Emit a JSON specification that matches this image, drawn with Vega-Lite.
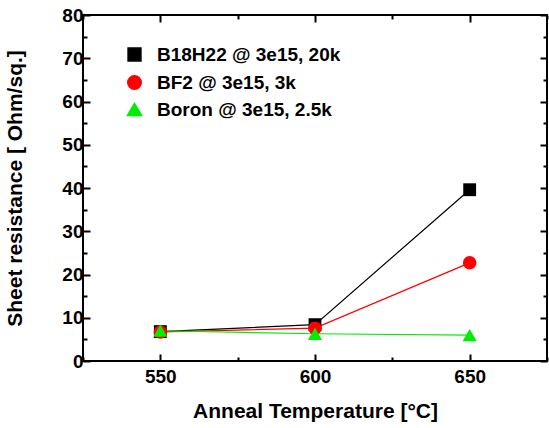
{
  "$schema": "https://vega.github.io/schema/vega-lite/v6.json",
  "width": 464,
  "height": 346,
  "autosize": "none",
  "padding": {"left": 83, "top": 15, "right": 2, "bottom": 67},
  "background": "white",
  "config": {
    "view": {"stroke": "black", "strokeWidth": 2},
    "font": "Liberation Sans",
    "axis": {
      "domain": false,
      "grid": false,
      "labelFont": "Liberation Sans",
      "labelFontWeight": "bold",
      "labelFontSize": 19,
      "labelColor": "black",
      "titleFont": "Liberation Sans",
      "titleFontWeight": "bold",
      "titleFontSize": 21,
      "titleColor": "black",
      "tickColor": "black",
      "tickWidth": 2
    },
    "legend": {
      "labelFont": "Liberation Sans",
      "labelFontWeight": "bold",
      "labelFontSize": 19,
      "labelColor": "black",
      "labelLimit": 400
    }
  },
  "data": {
    "values": [
      {"series": "B18H22 @ 3e15, 20k", "T": 550, "R": 6.8},
      {"series": "B18H22 @ 3e15, 20k", "T": 600, "R": 8.4},
      {"series": "B18H22 @ 3e15, 20k", "T": 650, "R": 39.6},
      {"series": "BF2 @ 3e15, 3k", "T": 550, "R": 6.7},
      {"series": "BF2 @ 3e15, 3k", "T": 600, "R": 7.6},
      {"series": "BF2 @ 3e15, 3k", "T": 650, "R": 22.7},
      {"series": "Boron @ 3e15, 2.5k", "T": 550, "R": 7.0},
      {"series": "Boron @ 3e15, 2.5k", "T": 600, "R": 6.3},
      {"series": "Boron @ 3e15, 2.5k", "T": 650, "R": 6.0}
    ]
  },
  "layer": [
    {
      "mark": {"type": "line", "strokeWidth": 1.2},
      "encoding": {
        "x": {
          "field": "T", "type": "quantitative",
          "scale": {"domain": [525, 675], "nice": false, "zero": false},
          "axis": {
            "orient": "bottom",
            "title": "Anneal Temperature [°C]",
            "values": [525, 550, 575, 600, 625, 650, 675],
            "labelExpr": "datum.value % 50 == 0 ? datum.label : ''",
            "tickSize": {"condition": {"test": "datum.value % 50 == 0", "value": -7}, "value": -4},
            "labelPadding": 13,
            "titlePadding": 14
          }
        },
        "y": {
          "field": "R", "type": "quantitative",
          "scale": {"domain": [0, 80], "nice": false},
          "axis": {
            "orient": "left",
            "title": "Sheet resistance [ Ohm/sq.]",
            "values": [0, 5, 10, 15, 20, 25, 30, 35, 40, 45, 50, 55, 60, 65, 70, 75, 80],
            "labelExpr": "datum.value % 10 == 0 ? datum.label : ''",
            "tickSize": {"condition": {"test": "datum.value % 10 == 0", "value": -7}, "value": -4},
            "labelPadding": 7,
            "titlePadding": 36
          }
        },
        "color": {
          "field": "series", "type": "nominal",
          "scale": {
            "domain": ["B18H22 @ 3e15, 20k", "BF2 @ 3e15, 3k", "Boron @ 3e15, 2.5k"],
            "range": ["#000000", "#ff0000", "#00ee00"]
          }
        }
      }
    },
    {
      "mark": {"type": "point", "filled": true, "opacity": 1},
      "encoding": {
        "x": {
          "field": "T", "type": "quantitative",
          "axis": {
            "orient": "top", "title": null, "labels": false,
            "values": [525, 550, 575, 600, 625, 650, 675],
            "tickSize": {"condition": {"test": "datum.value % 50 == 0", "value": -7}, "value": -4}
          }
        },
        "y": {
          "field": "R", "type": "quantitative",
          "axis": {
            "orient": "right", "title": null, "labels": false,
            "values": [0, 5, 10, 15, 20, 25, 30, 35, 40, 45, 50, 55, 60, 65, 70, 75, 80],
            "tickSize": {"condition": {"test": "datum.value % 10 == 0", "value": -7}, "value": -4}
          }
        },
        "color": {
          "field": "series", "type": "nominal",
          "scale": {
            "domain": ["B18H22 @ 3e15, 20k", "BF2 @ 3e15, 3k", "Boron @ 3e15, 2.5k"],
            "range": ["#000000", "#ff0000", "#00ee00"]
          },
          "legend": {
            "title": null,
            "orient": "none",
            "legendX": 42,
            "legendY": 30,
            "padding": 0,
            "symbolSize": 64,
            "labelOffset": 13,
            "rowPadding": 7
          }
        },
        "shape": {
          "field": "series", "type": "nominal",
          "scale": {
            "domain": ["B18H22 @ 3e15, 20k", "BF2 @ 3e15, 3k", "Boron @ 3e15, 2.5k"],
            "range": ["square", "circle", "triangle-up"]
          },
          "legend": {
            "title": null,
            "orient": "none",
            "legendX": 42,
            "legendY": 30,
            "padding": 0,
            "symbolSize": 64,
            "labelOffset": 13,
            "rowPadding": 7
          }
        },
        "size": {
          "field": "series", "type": "nominal",
          "scale": {
            "domain": ["B18H22 @ 3e15, 20k", "BF2 @ 3e15, 3k", "Boron @ 3e15, 2.5k"],
            "range": [165, 200, 350]
          },
          "legend": null
        }
      }
    }
  ],
  "resolve": {"axis": {"x": "independent", "y": "independent"}}
}
